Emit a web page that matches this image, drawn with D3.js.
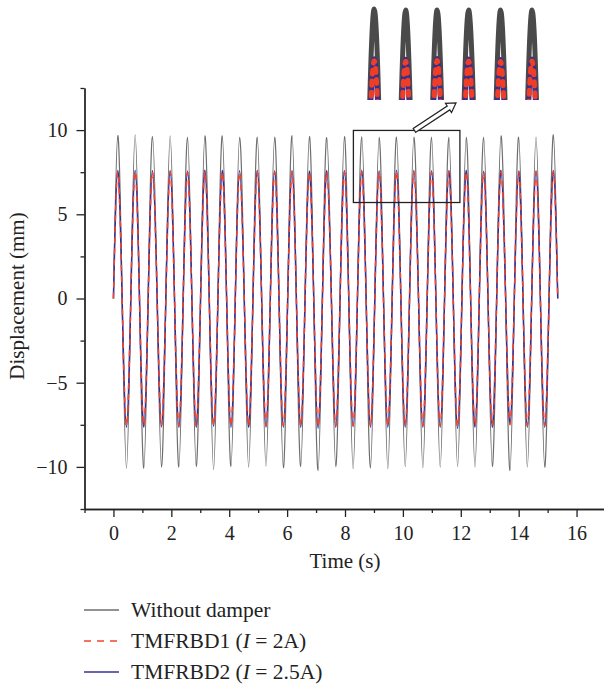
<!DOCTYPE html>
<html>
<head>
<meta charset="utf-8">
<script src="https://cdn.jsdelivr.net/npm/d3@7"></script>
<style>
body { margin: 0; background: #fff; }
text { font-family: "Liberation Serif", "Times New Roman", serif; fill: #222; }
</style>
</head>
<body>
<script>
// time (s) of every zero crossing / extreme
var times = [
    0, 0.15, 0.30, 0.45, 0.60, 0.75, 0.90, 1.05, 1.20, 1.35,
    1.51, 1.66, 1.81, 1.96, 2.11, 2.26, 2.41, 2.56, 2.71, 2.86,
    3.01, 3.16, 3.31, 3.46, 3.61, 3.76, 3.91, 4.06, 4.21, 4.36,
    4.52, 4.67, 4.82, 4.97, 5.12, 5.27, 5.42, 5.57, 5.72, 5.87,
    6.02, 6.17, 6.32, 6.47, 6.62, 6.77, 6.92, 7.07, 7.22, 7.37,
    7.53, 7.68, 7.83, 7.98, 8.13, 8.28, 8.43, 8.58, 8.73, 8.88,
    9.03, 9.18, 9.33, 9.48, 9.63, 9.78, 9.93, 10.08, 10.23, 10.38,
    10.54, 10.69, 10.84, 10.99, 11.14, 11.29, 11.44, 11.59, 11.74, 11.89,
    12.04, 12.19, 12.34, 12.49, 12.64, 12.79, 12.94, 13.09, 13.24, 13.39,
    13.55, 13.70, 13.85, 14.00, 14.15, 14.30, 14.45, 14.60, 14.75, 14.90,
    15.05, 15.20, 15.35
];

// peak and trough displacements (mm)
var noDamperPeaks = [9.68, 9.72, 9.62, 9.66, 9.58, 9.66, 9.66, 9.58, 9.58, 9.58, 9.68, 9.62, 9.56,
    9.62, 9.62, 9.58, 9.58, 9.58, 9.58, 9.58, 9.58, 9.58, 9.66, 9.58, 9.58, 9.72];
var noDamperTroughs = [-10.08, -10.08, -10.02, -10.02, -9.98, -10.16, -9.98, -10.02, -9.96, -10.06, -9.98, -10.22,
    -9.98, -10.12, -10.08, -10.12, -9.98, -10.06, -10.02, -9.98, -10.02, -9.98, -10.22, -10.02, -10.02];

var damper1Peaks = [7.52, 7.54, 7.50, 7.52, 7.49, 7.53, 7.52, 7.50, 7.54, 7.51, 7.52, 7.49, 7.52,
    7.52, 7.53, 7.51, 7.54, 7.52, 7.50, 7.52, 7.53, 7.48, 7.52, 7.48, 7.51, 7.52];
var damper1Troughs = [-7.56, -7.56, -7.55, -7.57, -7.56, -7.52, -7.56, -7.56, -7.55, -7.56, -7.57, -7.60,
    -7.56, -7.54, -7.56, -7.56, -7.55, -7.56, -7.56, -7.60, -7.56, -7.56, -7.50, -7.56, -7.56];

var damper2Peaks = [7.60, 7.62, 7.58, 7.60, 7.57, 7.61, 7.60, 7.58, 7.62, 7.59, 7.60, 7.57, 7.60,
    7.60, 7.61, 7.59, 7.62, 7.60, 7.58, 7.60, 7.61, 7.55, 7.60, 7.55, 7.59, 7.60];
var damper2Troughs = [-7.64, -7.64, -7.63, -7.65, -7.64, -7.58, -7.64, -7.64, -7.63, -7.64, -7.64, -7.70,
    -7.64, -7.61, -7.64, -7.64, -7.64, -7.64, -7.64, -7.70, -7.64, -7.64, -7.45, -7.64, -7.64];

var xTicks = [0, 2, 4, 6, 8, 10, 12, 14, 16];
var xMinor = [-1, 1, 3, 5, 7, 9, 11, 13, 15];
var yTicks = [-10, -5, 0, 5, 10];
var yMinor = [-12.5, -7.5, -2.5, 2.5, 7.5, 12.5];

// zoomed window shown in the inset
var zoomTime = [8.29, 11.97];
var zoomDisp = [5.94, 9.98];
var boxDisp = [5.7, 9.98];

var seriesNames = ["Without damper", "TMFRBD1 (I = 2A)", "TMFRBD2 (I = 2.5A)"];

// zeros between the read extremes: 0, peak, 0, trough, 0, ...
function buildSeries(peaks, troughs) {
    return times.map(function (t, i) {
        var v = 0;
        if (i % 4 == 1) v = peaks[(i - 1) / 4];
        if (i % 4 == 3) v = troughs[(i - 3) / 4];
        return [t, v];
    });
}

var series = [
    { name: seriesNames[0], data: buildSeries(noDamperPeaks, noDamperTroughs), color: "#6e6e6e", width: 1.2, dash: null,
      insetColor: "#4a4a4a" },
    { name: seriesNames[2], data: buildSeries(damper2Peaks, damper2Troughs), color: "#34309a", width: 1.5, dash: null,
      insetColor: "#35308f" },
    { name: seriesNames[1], data: buildSeries(damper1Peaks, damper1Troughs), color: "#f0452b", width: 1.5, dash: "6,5",
      insetColor: "#ef3d26" }
];

var svg = d3.select("body").append("svg")
    .attr("width", 604)
    .attr("height", 684);

var xScale = d3.scaleLinear().domain([-1, 17]).range([84.5, 605.5]);
var yScale = d3.scaleLinear().domain([-12.5, 12.5]).range([509, 88]);

var line = d3.line()
    .x(function (d) { return xScale(d[0]); })
    .y(function (d) { return yScale(d[1]); })
    .curve(d3.curveNatural);

// main curves
svg.selectAll(".curve")
    .data(series)
    .enter()
    .append("path")
    .attr("class", "curve")
    .attr("d", function (d) { return line(d.data); })
    .attr("fill", "none")
    .attr("stroke", function (d) { return d.color; })
    .attr("stroke-width", function (d) { return d.width; })
    .attr("stroke-dasharray", function (d) { return d.dash; });

// axes
function styleAxis(g) {
    g.select(".domain").attr("stroke", "#222").attr("stroke-width", 1.3);
    g.selectAll(".tick line").attr("stroke", "#222").attr("stroke-width", 1.3);
    g.selectAll(".tick text").attr("font-size", "20px").attr("fill", "#222")
        .attr("font-family", "Liberation Serif, serif");
}

svg.append("g")
    .attr("transform", "translate(0,509)")
    .call(d3.axisBottom(xScale).tickValues(xTicks).tickSize(8).tickPadding(9).tickSizeOuter(0))
    .call(styleAxis);
svg.append("g")
    .attr("transform", "translate(0,509)")
    .call(d3.axisBottom(xScale).tickValues(xMinor).tickSize(4).tickSizeOuter(0).tickFormat(""))
    .call(styleAxis);

svg.append("g")
    .attr("transform", "translate(84.5,0)")
    .call(d3.axisLeft(yScale).tickValues(yTicks).tickSize(8).tickPadding(9).tickSizeOuter(0))
    .call(styleAxis);
svg.append("g")
    .attr("transform", "translate(84.5,0)")
    .call(d3.axisLeft(yScale).tickValues(yMinor).tickSize(4).tickSizeOuter(0).tickFormat(""))
    .call(styleAxis);

// axis titles
svg.append("text")
    .attr("x", 345)
    .attr("y", 568)
    .attr("text-anchor", "middle")
    .attr("font-size", "21px")
    .text("Time (s)");

svg.append("text")
    .attr("transform", "translate(24,296) rotate(-90)")
    .attr("text-anchor", "middle")
    .attr("font-size", "21px")
    .text("Displacement (mm)");

// box around zoomed area
var bx0 = xScale(zoomTime[0]), bx1 = xScale(zoomTime[1]);
var by0 = yScale(boxDisp[1]), by1 = yScale(boxDisp[0]);
svg.append("rect")
    .attr("x", bx0)
    .attr("y", by0)
    .attr("width", bx1 - bx0)
    .attr("height", by1 - by0)
    .attr("fill", "none")
    .attr("stroke", "#222")
    .attr("stroke-width", 1.3);

// inset
var insetX = d3.scaleLinear().domain(zoomTime).range([359, 552]);
var insetY = d3.scaleLinear().domain(zoomDisp).range([100, 0]);
var insetLine = d3.line()
    .x(function (d) { return insetX(d[0]); })
    .y(function (d) { return insetY(d[1]); })
    .curve(d3.curveNatural);

svg.append("clipPath")
    .attr("id", "insetClip")
    .append("rect")
    .attr("x", 359)
    .attr("y", 0)
    .attr("width", 193)
    .attr("height", 100);

svg.append("g")
    .attr("clip-path", "url(#insetClip)")
    .selectAll("path")
    .data(series)
    .enter()
    .append("path")
    .attr("d", function (d) { return insetLine(d.data); })
    .attr("fill", "none")
    .attr("stroke", function (d) { return d.insetColor; })
    .attr("stroke-width", 5)
    .attr("stroke-linecap", function (d) { return d.dash ? "round" : "butt"; })
    .attr("stroke-dasharray", function (d) { return d.dash ? "4,7" : null; });

// hollow arrow from box to inset
var tail = [xScale(10.4), by0];
var tip = [456, 103];
var dx = tip[0] - tail[0], dy = tip[1] - tail[1];
var len = Math.sqrt(dx * dx + dy * dy);
var ux = dx / len, uy = dy / len, nx = -uy, ny = ux;
var neck = [tip[0] - ux * 9, tip[1] - uy * 9];
var shaft = 2.3, head = 5.5;
var arrowPts = [
    [tail[0] + nx * shaft, tail[1] + ny * shaft],
    [neck[0] + nx * shaft, neck[1] + ny * shaft],
    [neck[0] + nx * head, neck[1] + ny * head],
    tip,
    [neck[0] - nx * head, neck[1] - ny * head],
    [neck[0] - nx * shaft, neck[1] - ny * shaft],
    [tail[0] - nx * shaft, tail[1] - ny * shaft]
];
svg.append("polygon")
    .attr("points", arrowPts.map(function (p) { return p.join(","); }).join(" "))
    .attr("fill", "#fff")
    .attr("stroke", "#222")
    .attr("stroke-width", 1.2);

// legend
var legendItems = [series[0], series[2], series[1]];
var legendY = d3.scalePoint().domain(seriesNames).range([610, 672]);

var legend = svg.selectAll(".legend")
    .data(legendItems)
    .enter()
    .append("g")
    .attr("class", "legend")
    .attr("transform", function (d) { return "translate(0," + legendY(d.name) + ")"; });

legend.append("line")
    .attr("x1", 84)
    .attr("x2", 119)
    .attr("stroke", function (d) { return d.color; })
    .attr("stroke-width", 1.3)
    .attr("stroke-dasharray", function (d) { return d.dash ? "7,6" : null; });

legend.append("text")
    .attr("x", 131)
    .attr("y", 7)
    .attr("font-size", "21.5px")
    .each(function (d) {
        var t = d3.select(this);
        var m = d.name.match(/^(.*\()I( = .*)$/);
        if (m) {
            t.append("tspan").text(m[1]);
            t.append("tspan").attr("font-style", "italic").text("I");
            t.append("tspan").text(m[2]);
        } else {
            t.text(d.name);
        }
    });
</script>
</body>
</html>
